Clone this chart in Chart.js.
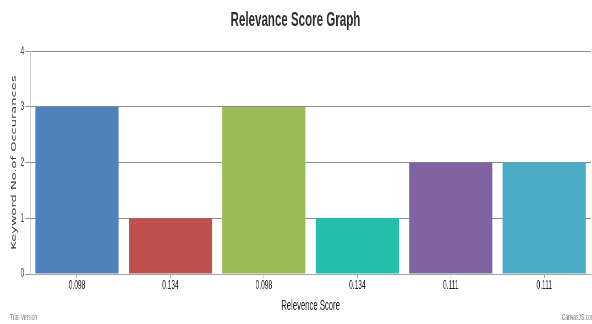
<!DOCTYPE html>
<html>
<head>
<meta charset="utf-8">
<script src="https://cdn.jsdelivr.net/npm/chart.js@4/dist/chart.umd.min.js"></script>
<style>
  html, body { margin: 0; padding: 0; background: #fff; overflow: hidden; }
  /* the original picture is squeezed sideways, so draw wide and squeeze */
  #wrap { position: absolute; left: 0; top: 0; width: 1076px; height: 324px;
          transform: scaleX(0.5502); transform-origin: 0 0; }
</style>
</head>
<body>
<div id="wrap"><canvas id="score-chart"></canvas></div>
<script>
var scores = ['0.098', '0.134', '0.098', '0.134', '0.111', '0.111'];
var occurrences = [3, 1, 3, 1, 2, 2];
var barColors = ['#4F81BC', '#C0504E', '#9BBB58', '#23BFAA', '#8064A1', '#4AACC5'];
var yTicks = [0, 1, 2, 3, 4];

var font = "'Liberation Sans', Arial, sans-serif";

// small grey texts in the corners
var cornerText = {
  id: 'cornerText',
  afterDraw: function (chart) {
    var c = chart.ctx;
    c.save();
    c.font = '9px ' + font;
    c.fillStyle = '#7a7a7a';
    c.textBaseline = 'middle';
    c.textAlign = 'left';
    c.fillText('Trial Version', 18, 318);
    c.fillText('CanvasJS.com', 1021, 318);
    c.restore();
  }
};

var ctx = document.getElementById('score-chart').getContext('2d');
var myChart = new Chart(ctx, {
  type: 'bar',
  data: {
    labels: scores,
    datasets: [{
      label: 'Keyword No.of Occurances',
      data: occurrences,
      backgroundColor: barColors,
      borderWidth: 0,
      barPercentage: 0.89,
      categoryPercentage: 1
    }]
  },
  options: {
    responsive: true,
    maintainAspectRatio: false,
    animation: false,
    layout: { padding: { left: 0, right: 2, top: 0, bottom: 0 } },
    plugins: {
      legend: { display: false },
      tooltip: { enabled: false },
      title: {
        display: true,
        text: 'Relevance Score Graph',
        color: '#2e2e2e',
        font: { family: font, size: 21, weight: 'bold' },
        padding: { top: 8, bottom: 18 }
      }
    },
    scales: {
      x: {
        grid: { display: true, offset: false, drawOnChartArea: false, drawTicks: true, tickLength: 4, color: '#999' },
        border: { display: true, color: '#a8a8a8', width: 1 },
        ticks: { color: '#222', font: { family: font, size: 12 }, padding: 0, maxRotation: 0 },
        title: {
          display: true,
          text: 'Relevence Score',
          color: '#222',
          font: { family: font, size: 14 },
          padding: { top: 0, bottom: 9 }
        },
        afterFit: function (s) { s.height = 50; }
      },
      y: {
        min: 0,
        max: 4,
        afterBuildTicks: function (s) { s.ticks = yTicks.map(function (v) { return { value: v }; }); },
        grid: { color: '#8c8c8c', tickColor: '#999', tickLength: 9, drawTicks: true },
        border: { display: true, color: '#c8c8c8', width: 1 },
        ticks: { color: '#444', font: { family: font, size: 12 }, padding: 2 },
        title: {
          display: true,
          text: 'Keyword No.of Occurances',
          color: '#333',
          font: { family: "'DejaVu Sans', Verdana, sans-serif", size: 13 },
          padding: { top: 18, bottom: 0 }
        },
        afterFit: function (s) { s.width = 55; }
      }
    }
  },
  plugins: [cornerText]
});
</script>
</body>
</html>
